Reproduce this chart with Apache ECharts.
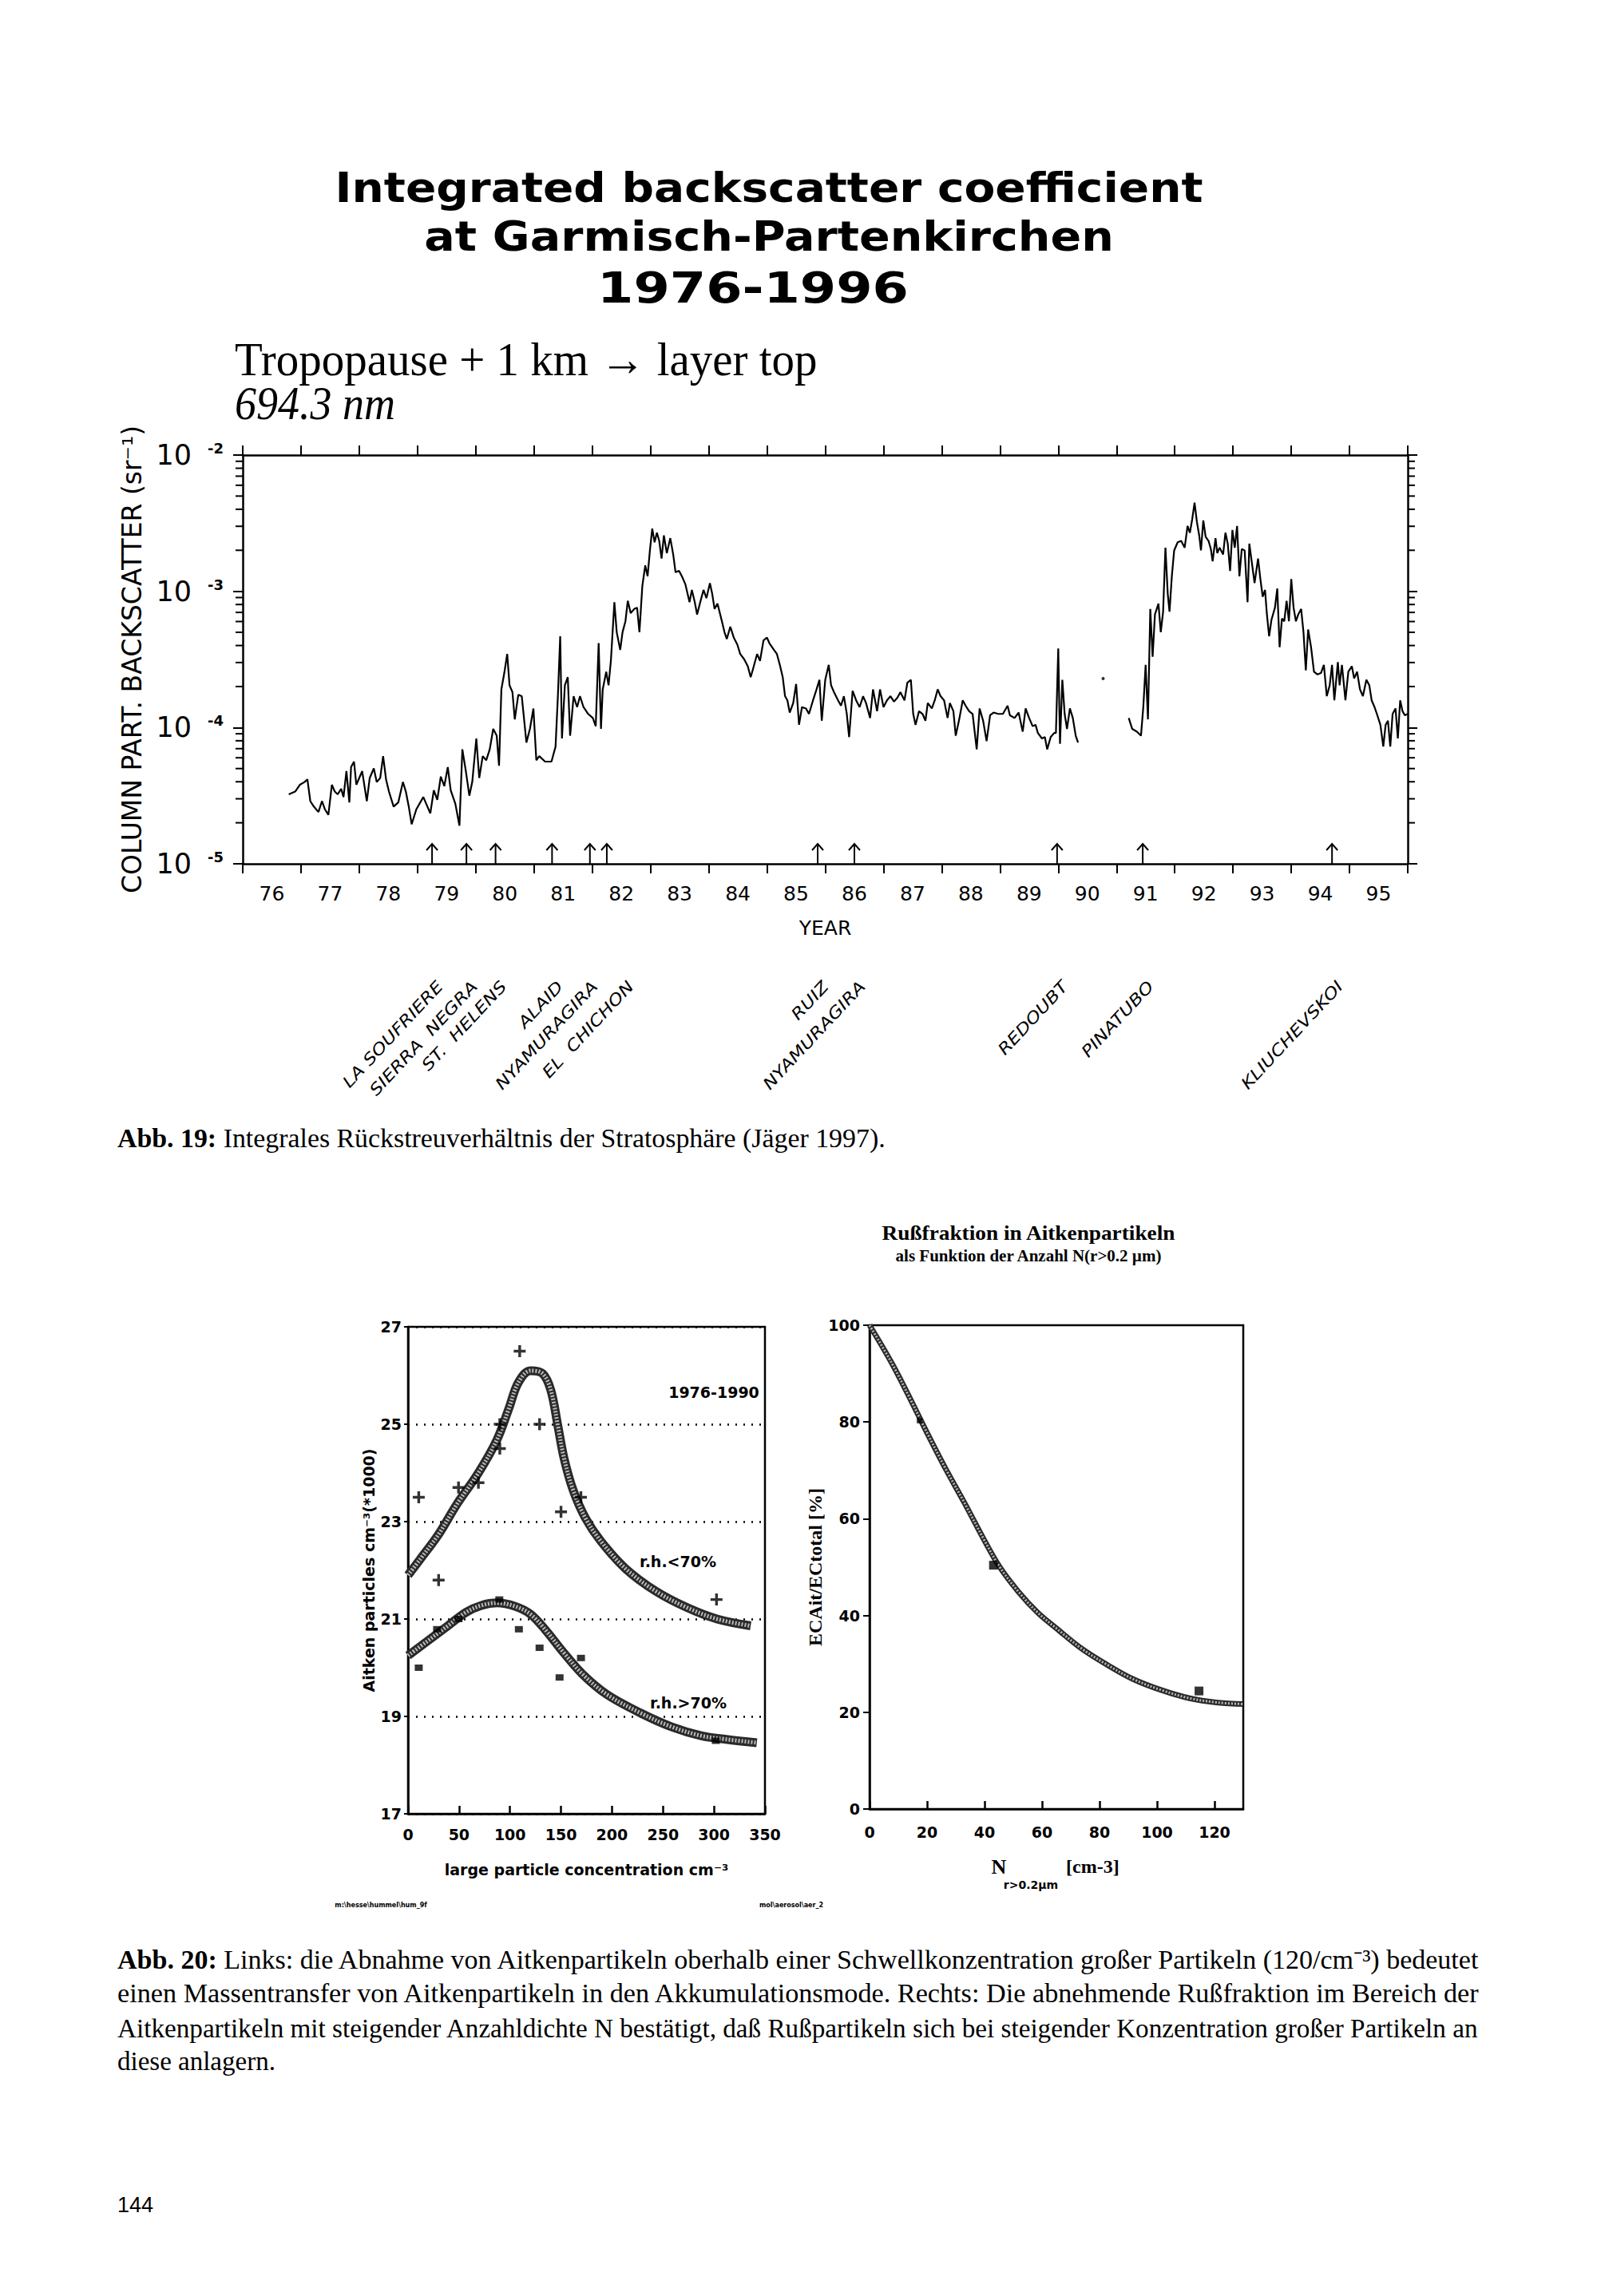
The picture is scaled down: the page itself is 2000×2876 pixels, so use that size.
<!DOCTYPE html>
<html><head><meta charset="utf-8">
<script src="https://cdn.jsdelivr.net/npm/echarts@6/dist/echarts.min.js"></script>
<style>html,body{margin:0;padding:0;background:#fff}#c{width:2000px;height:2876px}</style>
</head><body><div id="c"></div>
<script>
// ---------- Top chart: integrated backscatter (two-digit year, log10 of sr^-1) ----------
var obsYear = [
76.79,76.90,76.98,77.06,77.11,77.16,77.22,77.30,77.36,77.41,77.47,77.53,77.58,77.63,77.69,77.73,77.78,77.83,77.86,77.91,77.95,
78.00,78.05,78.13,78.18,78.25,78.30,78.36,78.41,78.46,78.51,78.59,78.67,78.75,78.80,78.85,78.90,78.98,
79.10,79.22,79.28,79.34,79.40,79.46,79.52,79.57,79.65,79.72,79.77,79.83,79.89,79.94,
80.01,80.06,80.12,80.18,80.24,80.30,80.36,80.40,80.44,80.49,80.54,80.58,80.63,80.67,80.73,80.79,80.87,80.93,80.99,
81.04,81.09,81.19,81.30,81.37,81.41,81.45,81.48,81.53,81.58,81.62,81.68,81.74,81.79,81.85,81.93,
82.01,82.06,82.11,82.15,82.18,82.24,82.28,82.32,82.38,82.42,82.48,82.52,82.57,82.61,82.66,82.72,82.77,82.81,82.86,82.91,82.95,82.99,
83.03,83.07,83.11,83.15,83.19,83.23,83.28,83.34,83.39,83.43,83.49,83.55,83.60,83.67,83.71,83.76,83.80,83.86,83.91,83.96,
84.02,84.06,84.10,84.15,84.22,84.27,84.31,84.37,84.43,84.49,84.54,84.61,84.67,84.72,84.76,84.83,84.88,84.94,
85.00,85.04,85.12,85.17,85.22,85.27,85.31,85.35,85.39,85.45,85.50,85.55,85.60,85.67,85.72,85.79,85.85,85.90,85.94,
86.00,86.06,86.10,86.15,86.22,86.27,86.32,86.37,86.41,86.47,86.53,86.59,86.65,86.70,86.77,86.82,86.89,86.94,
87.00,87.06,87.12,87.18,87.24,87.29,87.36,87.41,87.47,87.51,87.55,87.61,87.67,87.72,87.76,87.83,87.88,87.93,87.98,
88.04,88.10,88.14,88.20,88.24,88.30,88.36,88.41,88.47,88.53,88.60,88.65,88.71,88.77,88.83,88.89,88.97,
89.05,89.13,89.17,89.25,89.32,89.39,89.44,89.50,89.56,89.61,89.65,89.72,89.77,89.81,89.87,89.93,89.96,
90.00,90.03,90.07,90.11,90.15,90.20,90.25,90.30,90.34,90.70,
91.21,91.27,91.35,91.42,91.46,91.50,91.54,91.58,91.62,91.66,91.72,91.76,91.80,91.84,91.88,91.91,91.95,91.99,
92.05,92.11,92.17,92.22,92.26,92.30,92.34,92.38,92.42,92.45,92.49,92.53,92.58,92.62,92.65,92.70,92.73,92.77,92.83,92.87,92.91,92.95,92.99,
93.03,93.07,93.11,93.15,93.20,93.25,93.28,93.33,93.37,93.43,93.47,93.51,93.55,93.58,93.62,93.66,93.72,93.76,93.80,93.84,93.88,93.92,93.96,
94.00,94.04,94.08,94.12,94.17,94.21,94.25,94.29,94.34,94.39,94.45,94.51,94.56,94.61,94.66,94.70,94.74,94.80,94.83,94.87,94.93,94.98,
95.04,95.08,95.13,95.18,95.23,95.29,95.34,95.38,95.43,95.47,95.53,95.58,95.62,95.66,95.70,95.74,95.79,95.83,95.87,95.91,95.95,96.00
];
var obsLog10 = [
-4.49,-4.47,-4.42,-4.40,-4.38,-4.54,-4.58,-4.62,-4.54,-4.60,-4.64,-4.42,-4.47,-4.49,-4.45,-4.51,-4.32,-4.55,-4.29,-4.25,-4.42,
-4.37,-4.32,-4.54,-4.37,-4.30,-4.40,-4.37,-4.21,-4.38,-4.47,-4.58,-4.55,-4.40,-4.47,-4.58,-4.71,-4.60,
-4.51,-4.63,-4.46,-4.53,-4.36,-4.43,-4.29,-4.46,-4.56,-4.72,-4.16,-4.32,-4.50,-4.40,
-4.08,-4.37,-4.21,-4.24,-4.16,-4.01,-4.06,-4.28,-3.72,-3.60,-3.46,-3.69,-3.74,-3.94,-3.76,-3.77,-4.11,-4.01,-3.86,
-4.24,-4.21,-4.25,-4.25,-4.14,-3.77,-3.33,-4.08,-3.69,-3.63,-4.06,-3.77,-3.85,-3.77,-3.85,-3.90,
-3.93,-3.99,-3.38,-4.01,-3.72,-3.59,-3.69,-3.51,-3.08,-3.30,-3.43,-3.30,-3.22,-3.07,-3.16,-3.13,-3.12,-3.30,-2.96,-2.81,-2.89,-2.70,
-2.54,-2.64,-2.57,-2.63,-2.76,-2.59,-2.72,-2.61,-2.73,-2.86,-2.85,-2.90,-2.95,-3.08,-2.99,-3.08,-3.17,-3.07,-2.99,-3.05,
-2.94,-3.02,-3.13,-3.09,-3.21,-3.30,-3.35,-3.26,-3.34,-3.39,-3.46,-3.50,-3.55,-3.63,-3.57,-3.46,-3.51,-3.36,
-3.34,-3.38,-3.43,-3.46,-3.54,-3.63,-3.77,-3.80,-3.89,-3.82,-3.68,-3.98,-3.85,-3.86,-3.90,-3.80,-3.72,-3.65,-3.95,
-3.65,-3.54,-3.69,-3.74,-3.80,-3.84,-3.77,-3.90,-4.07,-3.73,-3.80,-3.85,-3.77,-3.82,-3.93,-3.72,-3.88,-3.72,
-3.85,-3.80,-3.77,-3.81,-3.78,-3.74,-3.80,-3.67,-3.65,-3.90,-3.98,-3.88,-3.90,-3.95,-3.82,-3.86,-3.80,-3.72,-3.77,
-3.80,-3.93,-3.82,-3.88,-4.06,-3.94,-3.80,-3.84,-3.88,-3.90,-4.16,-3.86,-3.95,-4.10,-3.91,-3.89,-3.90,
-3.90,-3.84,-3.91,-3.93,-3.89,-4.03,-3.86,-3.93,-3.99,-3.98,-4.04,-4.08,-4.07,-4.16,-4.07,-4.04,-4.04,
-3.42,-4.12,-3.65,-3.90,-4.01,-3.86,-3.93,-4.06,-4.11,null,
-3.93,-4.01,-4.03,-4.06,-3.85,-3.54,-3.94,-3.13,-3.48,-3.17,-3.09,-3.30,-3.15,-2.68,-3.02,-3.15,-2.89,-2.70,
-2.64,-2.63,-2.68,-2.52,-2.57,-2.47,-2.35,-2.49,-2.59,-2.70,-2.48,-2.60,-2.63,-2.69,-2.78,-2.61,-2.72,-2.68,-2.73,-2.57,-2.65,-2.85,-2.55,
-2.68,-2.52,-2.89,-2.69,-2.70,-3.08,-2.65,-2.81,-2.94,-2.76,-2.91,-3.04,-2.99,-3.16,-3.33,-3.21,-3.12,-2.98,-3.41,-3.20,-3.22,-3.07,-3.22,
-2.91,-3.12,-3.22,-3.17,-3.13,-3.30,-3.58,-3.28,-3.41,-3.59,-3.61,-3.60,-3.54,-3.77,-3.69,-3.54,-3.80,-3.52,-3.69,-3.54,-3.80,-3.59,
-3.55,-3.64,-3.59,-3.72,-3.77,-3.65,-3.69,-3.80,-3.85,-3.90,-3.98,-4.14,-3.98,-3.95,-4.14,-3.90,-3.86,-4.08,-3.80,-3.88,-3.91,-3.90
];
var isolatedYear = [90.77];
var isolatedLog10 = [-3.64];
var yearLabels = ['76','77','78','79','80','81','82','83','84','85','86','87','88','89','90','91','92','93','94','95'];
var volcanoYears = [79.25, 79.84, 80.34, 81.31, 81.96, 82.25, 85.87, 86.50, 89.98, 91.45, 94.70];
var volcanoNames = ['LA SOUFRIERE','SIERRA  NEGRA','ST.  HELENS','ALAID','NYAMURAGIRA','EL  CHICHON','RUIZ','NYAMURAGIRA','REDOUBT','PINATUBO','KLIUCHEVSKOI'];

// ---------- Bottom-left: Aitken particles vs large particle concentration ----------
var upperCurveX = [0, 12, 30, 48, 69, 87, 99, 108, 120, 132, 140, 147, 153, 162, 174, 189, 213, 243, 273, 303, 336];
var upperCurveY = [21.9, 22.23, 22.74, 23.36, 24.0, 24.67, 25.33, 25.85, 26.1, 26.04, 25.7, 24.96, 24.3, 23.64, 23.07, 22.6, 22.04, 21.57, 21.24, 21.0, 20.86];
var lowerCurveX = [0, 18, 39, 57, 72, 87, 105, 120, 135, 153, 171, 195, 228, 258, 288, 312, 342];
var lowerCurveY = [20.25, 20.53, 20.86, 21.14, 21.28, 21.33, 21.26, 21.1, 20.77, 20.3, 19.87, 19.45, 19.07, 18.79, 18.6, 18.53, 18.46];
var dryPointX = [10.5, 30, 49.5, 69, 90, 90, 109.5, 129, 150, 169.5, 302.5];
var dryPointY = [23.5, 21.8, 23.7, 23.8, 24.5, 25.0, 26.5, 25.0, 23.2, 23.5, 21.4];
var humidPointX = [10.5, 28.5, 49.5, 89.5, 108.7, 129, 148.6, 169.6, 301.8];
var humidPointY = [20.0, 20.79, 21.0, 21.4, 20.79, 20.41, 19.8, 20.2, 18.5];

// ---------- Bottom-right: soot fraction vs N ----------
var sootCurveX = [0, 7.7, 14.3, 19.8, 26.4, 33, 39.7, 45.2, 51.8, 58.5, 65.1, 73.9, 82.7, 91.5, 101.4, 111.3, 121.2, 130];
var sootCurveY = [100, 92.2, 84.6, 78.0, 70.4, 63.3, 55.8, 50.1, 44.9, 40.6, 37.3, 33.1, 29.8, 26.9, 24.6, 22.9, 22.0, 21.7];
var sootPointX = [17.4, 43.1, 114.6];
var sootPointY = [80.3, 50.4, 24.4];

// ---------- build ----------
function zip(xs, ys){ return xs.map(function(x,i){ return [x, ys[i]]; }); }
var topData = obsYear.map(function(y,i){ var v = obsLog10[i]; return v === null ? [y, '-'] : [y, Math.pow(10, v)]; });
var isoData = isolatedYear.map(function(y,i){ return [y, Math.pow(10, isolatedLog10[i])]; });
var minorTickValues = [];
[-5,-4,-3].forEach(function(e){ for (var k=2;k<=9;k++) minorTickValues.push(k*Math.pow(10,e)); });

var BLK = '#000';
var SANS = 'DejaVu Sans';
var SERIF = 'Liberation Serif';
// label layout tweak (pixels) so the crowded 1981/82 names do not collide
var labelShiftX = [0, 0, 0, 0, -4, 20, 0, 0, 0, 0, 0];

function axisLineStyle(){ return {show:true, onZero:false, lineStyle:{color:BLK, width:2.5}}; }

function minorTickRender(params, api){
  var v = api.value(1);
  var l = api.coord([76, v]), r = api.coord([96, v]);
  return {type:'group', children:[
    {type:'line', shape:{x1:l[0]-9, y1:l[1], x2:l[0], y2:l[1]}, style:{stroke:BLK, lineWidth:2}},
    {type:'line', shape:{x1:r[0], y1:r[1], x2:r[0]+9, y2:r[1]}, style:{stroke:BLK, lineWidth:2}}
  ]};
}
function arrowRender(params, api){
  var p = api.coord([api.value(0), api.value(1)]);
  var x = p[0], y = p[1];
  return {type:'group', children:[
    {type:'line', shape:{x1:x, y1:y, x2:x, y2:y-25}, style:{stroke:BLK, lineWidth:2}},
    {type:'polyline', shape:{points:[[x-7,y-17],[x,y-25],[x+7,y-17]]}, style:{stroke:BLK, lineWidth:2, fill:'none'}}
  ]};
}
function volcanoLabelRender(params, api){
  var p = api.coord([api.value(0), api.value(1)]);
  return {type:'text', x:p[0]+10+labelShiftX[params.dataIndex], y:p[1]+150, rotation:47*Math.PI/180, scaleX:1.2, scaleY:1,
    style:{text:volcanoNames[params.dataIndex], fontSize:20, fontFamily:SANS, fontStyle:'italic',
      fill:BLK, align:'right', verticalAlign:'middle', textAlign:'right', textVerticalAlign:'middle'}};
}

function txt(x, y, text, o){
  o = o || {};
  return {type:'text', x:x, y:y, scaleX:o.scaleX||1, scaleY:1, z:10,
    style:{text:text, fontSize:o.size||20, fontFamily:o.family||SANS, fontWeight:o.weight||'normal',
      fontStyle:o.style||'normal', fill:BLK, align:o.align||'left', verticalAlign:'middle',
      textAlign:o.align||'left', textVerticalAlign:'middle', rich:o.rich}};
}
var boldRich = {b:{fontSize:33, fontFamily:SERIF, fontWeight:'bold'}};
var bandOuter = '#2a2a2a', bandInner = '#b8b8b8';

var chart = echarts.init(document.getElementById('c'), null, {renderer:'svg'});
var option = {
  animation:false,
  backgroundColor:'#fff',
  grid:[
    {left:304, top:570, width:1459, height:512, show:false, outerBoundsMode:'none'},
    {left:511, top:1662, width:447, height:610, show:true, borderColor:BLK, borderWidth:2.5, outerBoundsMode:'none'},
    {left:1089, top:1660, width:468, height:606, show:true, borderColor:BLK, borderWidth:2.5, outerBoundsMode:'none'}
  ],
  xAxis:[
    {gridIndex:0, type:'value', min:76, max:96, interval:1, position:'bottom', axisLine:axisLineStyle(),
     axisTick:{show:true, inside:false, length:12, lineStyle:{color:BLK, width:2}}, axisLabel:{show:false}, splitLine:{show:false}},
    {gridIndex:0, type:'category', data:yearLabels, position:'bottom', offset:0, boundaryGap:true,
     axisLine:{show:false}, axisTick:{show:false}, splitLine:{show:false},
     axisLabel:{show:true, interval:0, margin:25, fontSize:25, fontFamily:SANS, color:BLK},
     name:'YEAR', nameLocation:'middle', nameGap:68, nameTextStyle:{fontSize:25, fontFamily:SANS, color:BLK}},
    {gridIndex:0, type:'value', min:76, max:96, interval:1, position:'top', axisLine:axisLineStyle(),
     axisTick:{show:true, inside:false, length:12, lineStyle:{color:BLK, width:2}}, axisLabel:{show:false}, splitLine:{show:false}},
    {gridIndex:1, type:'value', min:0, max:350, interval:50, axisLine:axisLineStyle(),
     axisTick:{show:true, inside:true, length:10, lineStyle:{color:BLK, width:2.5}}, splitLine:{show:false},
     axisLabel:{margin:16, fontSize:19, fontWeight:'bold', fontFamily:SANS, color:BLK},
     name:'large particle concentration cm⁻³', nameLocation:'middle', nameGap:60,
     nameTextStyle:{fontSize:19, fontWeight:'bold', fontFamily:SANS, color:BLK}},
    {gridIndex:2, type:'value', min:0, max:130, interval:20, axisLine:axisLineStyle(),
     axisTick:{show:true, inside:true, length:10, lineStyle:{color:BLK, width:2.5}}, splitLine:{show:false},
     axisLabel:{margin:19, fontSize:19, fontWeight:'bold', fontFamily:SANS, color:BLK, showMaxLabel:false}}
  ],
  yAxis:[
    {gridIndex:0, type:'log', logBase:10, min:1e-5, max:1e-2, position:'left', axisLine:axisLineStyle(),
     axisTick:{show:true, inside:false, length:12, lineStyle:{color:BLK, width:2}}, splitLine:{show:false},
     axisLabel:{margin:24, color:BLK, formatter:function(v){ var e = Math.round(Math.log(v)/Math.LN10); return '{a|10}{b|' + e + '}'; },
       rich:{a:{fontSize:35, fontFamily:SANS, color:BLK}, b:{fontSize:18, fontWeight:'bold', fontFamily:SANS, color:BLK, verticalAlign:'top', padding:[0,0,0,20]}}},
     name:'COLUMN PART. BACKSCATTER (sr⁻¹)', nameLocation:'middle', nameGap:122,
     nameTextStyle:{fontSize:33, fontFamily:SANS, color:BLK}},
    {gridIndex:0, type:'log', logBase:10, min:1e-5, max:1e-2, position:'right', axisLine:axisLineStyle(),
     axisTick:{show:true, inside:false, length:12, lineStyle:{color:BLK, width:2}}, axisLabel:{show:false}, splitLine:{show:false}},
    {gridIndex:1, type:'value', min:17, max:27, interval:2, axisLine:axisLineStyle(),
     axisTick:{show:true, inside:false, length:5, lineStyle:{color:BLK, width:2}},
     splitLine:{show:true, lineStyle:{color:BLK, width:2.5, type:[2,8]}},
     axisLabel:{margin:8, fontSize:19, fontWeight:'bold', fontFamily:SANS, color:BLK},
     name:'Aitken particles cm⁻³(*1000)', nameLocation:'middle', nameGap:40,
     nameTextStyle:{fontSize:19, fontWeight:'bold', fontFamily:SANS, color:BLK}},
    {gridIndex:2, type:'value', min:0, max:100, interval:20, axisLine:axisLineStyle(),
     axisTick:{show:true, inside:false, length:8, lineStyle:{color:BLK, width:2}}, splitLine:{show:false},
     axisLabel:{margin:12, fontSize:19, fontWeight:'bold', fontFamily:SANS, color:BLK},
     name:'ECAit/ECtotal [%]', nameLocation:'middle', nameGap:51,
     nameTextStyle:{fontSize:24, fontWeight:'bold', fontFamily:SERIF, color:BLK}}
  ],
  series:[
    {type:'line', xAxisIndex:0, yAxisIndex:0, data:topData, symbol:'none', connectNulls:false,
     lineStyle:{color:BLK, width:2.2}, z:3},
    {type:'scatter', xAxisIndex:0, yAxisIndex:0, data:isoData, symbol:'circle', symbolSize:4, itemStyle:{color:BLK}},
    {type:'custom', xAxisIndex:0, yAxisIndex:0, data:minorTickValues.map(function(v){ return [76, v]; }),
     encode:{x:0, y:1}, renderItem:minorTickRender, silent:true},
    {type:'custom', xAxisIndex:0, yAxisIndex:0, data:volcanoYears.map(function(y){ return [y, 1e-5]; }),
     encode:{x:0, y:1}, renderItem:arrowRender, silent:true},
    {type:'custom', xAxisIndex:0, yAxisIndex:0, data:volcanoYears.map(function(y){ return [y, 1e-5]; }),
     encode:{x:0, y:1}, renderItem:volcanoLabelRender, silent:true},

    {type:'line', xAxisIndex:3, yAxisIndex:2, data:zip(upperCurveX, upperCurveY), smooth:0.35, symbol:'none', lineStyle:{color:bandOuter, width:11}, z:2},
    {type:'line', xAxisIndex:3, yAxisIndex:2, data:zip(upperCurveX, upperCurveY), smooth:0.35, symbol:'none', lineStyle:{color:bandInner, width:5, type:[2,2]}, z:3},
    {type:'line', xAxisIndex:3, yAxisIndex:2, data:zip(lowerCurveX, lowerCurveY), smooth:0.35, symbol:'none', lineStyle:{color:bandOuter, width:11}, z:2},
    {type:'line', xAxisIndex:3, yAxisIndex:2, data:zip(lowerCurveX, lowerCurveY), smooth:0.35, symbol:'none', lineStyle:{color:bandInner, width:5, type:[2,2]}, z:3},
    {type:'scatter', xAxisIndex:3, yAxisIndex:2, data:zip(dryPointX, dryPointY), symbol:'path://M-1.6,-7H1.6V-1.6H7V1.6H1.6V7H-1.6V1.6H-7V-1.6H-1.6Z', symbolSize:15, itemStyle:{color:BLK}, z:5},
    {type:'scatter', xAxisIndex:3, yAxisIndex:2, data:zip(humidPointX, humidPointY), symbol:'rect', symbolSize:[10,8], itemStyle:{color:BLK}, z:5},

    {type:'line', xAxisIndex:4, yAxisIndex:3, data:zip(sootCurveX, sootCurveY), smooth:0.35, symbol:'none', lineStyle:{color:bandOuter, width:7}, z:2},
    {type:'line', xAxisIndex:4, yAxisIndex:3, data:zip(sootCurveX, sootCurveY), smooth:0.35, symbol:'none', lineStyle:{color:bandInner, width:3, type:[2,2]}, z:3},
    {type:'scatter', xAxisIndex:4, yAxisIndex:3, data:zip(sootPointX, sootPointY), symbol:'rect',
     symbolSize:function(v, p){ return p.dataIndex === 0 ? 7 : 11; }, itemStyle:{color:BLK}, z:5}
  ],
  graphic:[
    txt(963, 235, 'Integrated backscatter coefficient', {size:51, weight:'bold', align:'center', scaleX:1.11}),
    txt(963, 297, 'at Garmisch-Partenkirchen', {size:51, weight:'bold', align:'center', scaleX:1.12}),
    txt(943, 361, '1976-1996', {size:53, weight:'bold', align:'center', scaleX:1.23}),
    txt(294, 450, 'Tropopause + 1 km → layer top', {size:60, family:SERIF, scaleX:0.95}),
    txt(294, 505, '694.3 nm', {size:60, family:SERIF, style:'italic', scaleX:0.9}),
    txt(147, 1426, '{b|Abb. 19:} Integrales Rückstreuverhältnis der Stratosphäre (Jäger 1997).',
        {size:33, family:SERIF, rich:boldRich, scaleX:1.026}),
    txt(1288, 1544, 'Rußfraktion in Aitkenpartikeln', {size:26, family:SERIF, weight:'bold', align:'center', scaleX:1.05}),
    txt(1288, 1573, 'als Funktion der Anzahl N(r>0.2 µm)', {size:21, family:SERIF, weight:'bold', align:'center'}),
    txt(894, 1744, '1976-1990', {size:19, weight:'bold', align:'center'}),
    txt(849, 1956, 'r.h.<70%', {size:19, weight:'bold', align:'center'}),
    txt(862, 2133, 'r.h.>70%', {size:19, weight:'bold', align:'center'}),
    txt(1251, 2338, 'N', {size:26, family:SERIF, weight:'bold', align:'center'}),
    txt(1335, 2338, '[cm-3]', {size:24, family:SERIF, weight:'bold'}),
    txt(1291, 2361, 'r>0.2µm', {size:14, weight:'bold', align:'center'}),
    txt(477, 2386, 'm:\\hesse\\hummel\\hum_9f', {size:8, weight:'bold', align:'center'}),
    txt(991, 2386, 'mol\\aerosol\\aer_2', {size:8, weight:'bold', align:'center'}),
    txt(147, 2455, '{b|Abb. 20:} Links: die Abnahme von Aitkenpartikeln oberhalb einer Schwellkonzentration großer Partikeln (120/cm⁻³) bedeutet',
        {size:33, family:SERIF, rich:boldRich, scaleX:1.031}),
    txt(147, 2497, 'einen Massentransfer von Aitkenpartikeln in den Akkumulationsmode. Rechts: Die abnehmende Rußfraktion im Bereich der', {size:33, family:SERIF, scaleX:1.037}),
    txt(147, 2541, 'Aitkenpartikeln mit steigender Anzahldichte N bestätigt, daß Rußpartikeln sich bei steigender Konzentration großer Partikeln an', {size:33, family:SERIF, scaleX:1.006}),
    txt(147, 2582, 'diese anlagern.', {size:33, family:SERIF}),
    txt(147, 2762, '144', {size:27, family:'Liberation Sans'})
  ]
};
chart.setOption(option);
</script></body></html>
